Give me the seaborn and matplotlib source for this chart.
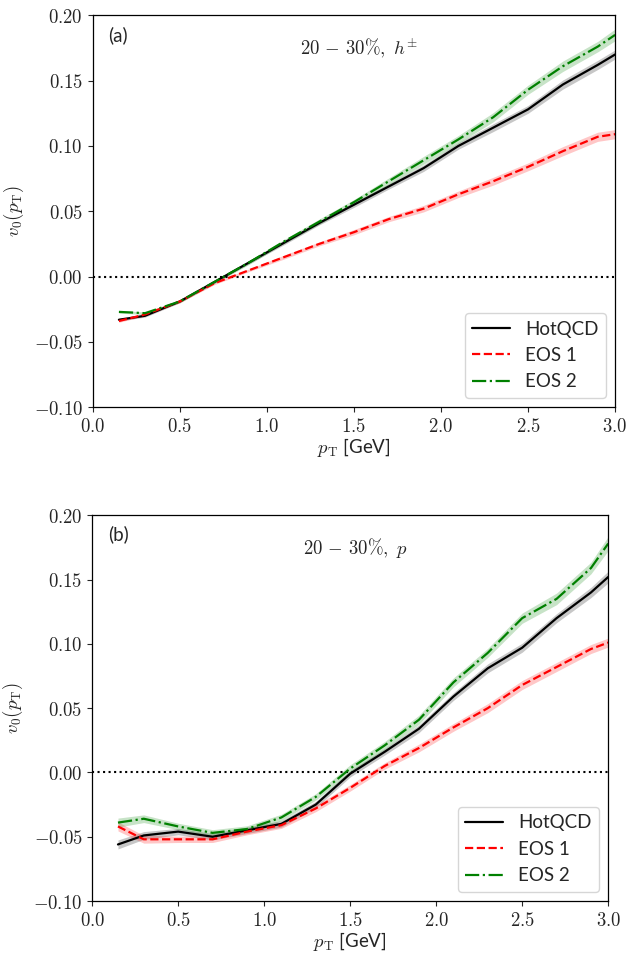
import numpy as np
import pandas as pd
import matplotlib
matplotlib.use("Agg")
import matplotlib.pyplot as plt
import seaborn as sns
from matplotlib.ticker import FuncFormatter, MultipleLocator

sns.set_style("ticks")
plt.rcParams['font.family'] = ['Lato', 'DejaVu Sans']
plt.rcParams['mathtext.fontset'] = 'cm'
plt.rcParams['axes.unicode_minus'] = True

# transverse momentum grid (GeV)
pt = [0.15, 0.3, 0.5, 0.7, 0.9, 1.1, 1.3, 1.5, 1.7, 1.9, 2.1, 2.3, 2.5, 2.7, 2.9, 3.0]

# panel (a): charged hadrons
a_hotqcd = [-0.033, -0.030, -0.019, -0.004, 0.011, 0.026, 0.041, 0.055, 0.069, 0.083, 0.100, 0.114, 0.128, 0.147, 0.162, 0.170]
a_eos1 = [-0.034, -0.029, -0.019, -0.005, 0.005, 0.015, 0.025, 0.034, 0.044, 0.052, 0.063, 0.073, 0.084, 0.096, 0.107, 0.109]
a_eos2 = [-0.027, -0.028, -0.019, -0.004, 0.011, 0.027, 0.042, 0.057, 0.073, 0.089, 0.105, 0.122, 0.143, 0.161, 0.176, 0.185]
a_hotqcd_err = [0.001, 0.001, 0.001, 0.001, 0.001, 0.0015, 0.0015, 0.002, 0.002, 0.0025, 0.0025, 0.003, 0.003, 0.0035, 0.0035, 0.0035]
a_eos1_err = [0.001, 0.001, 0.001, 0.001, 0.001, 0.0015, 0.0015, 0.002, 0.002, 0.0025, 0.0025, 0.003, 0.003, 0.0035, 0.0035, 0.0035]
a_eos2_err = [0.001, 0.001, 0.001, 0.001, 0.0015, 0.0015, 0.002, 0.002, 0.0025, 0.003, 0.003, 0.0035, 0.0035, 0.004, 0.004, 0.0045]

# panel (b): protons
b_hotqcd = [-0.056, -0.049, -0.046, -0.050, -0.045, -0.040, -0.025, -0.001, 0.016, 0.034, 0.059, 0.081, 0.097, 0.120, 0.140, 0.152]
b_eos1 = [-0.042, -0.052, -0.052, -0.052, -0.046, -0.041, -0.028, -0.012, 0.005, 0.019, 0.035, 0.050, 0.068, 0.082, 0.096, 0.101]
b_eos2 = [-0.039, -0.036, -0.042, -0.047, -0.044, -0.035, -0.019, 0.003, 0.021, 0.041, 0.070, 0.093, 0.120, 0.135, 0.159, 0.178]
b_hotqcd_err = [0.0035, 0.003, 0.0025, 0.0025, 0.0025, 0.0025, 0.0025, 0.0025, 0.0025, 0.003, 0.003, 0.0035, 0.0035, 0.0035, 0.004, 0.0045]
b_eos1_err = [0.0035, 0.003, 0.0025, 0.0025, 0.0025, 0.0025, 0.0025, 0.0025, 0.0025, 0.003, 0.003, 0.0035, 0.0035, 0.0035, 0.0035, 0.0035]
b_eos2_err = [0.0035, 0.003, 0.0025, 0.0025, 0.0025, 0.0025, 0.0025, 0.003, 0.003, 0.0035, 0.0035, 0.0035, 0.004, 0.0045, 0.0045, 0.0055]

labels = ['HotQCD', 'EOS 1', 'EOS 2']
colors = ['black', 'red', 'green']
styles = ['-', '--', '-.']

panels = [
    ('(a)', r'$20\,-\,30\%,\ h^{\pm}$', [a_hotqcd, a_eos1, a_eos2], [a_hotqcd_err, a_eos1_err, a_eos2_err]),
    ('(b)', r'$20\,-\,30\%,\ p$', [b_hotqcd, b_eos1, b_eos2], [b_hotqcd_err, b_eos1_err, b_eos2_err]),
]

fig = plt.figure(figsize=(6.27, 9.56), dpi=100)
axes = [fig.add_axes([0.148, 0.574, 0.833, 0.410]),
        fig.add_axes([0.147, 0.0575, 0.823, 0.4035])]

yfmt = FuncFormatter(lambda v, p: r'$%.2f$' % v)
xfmt = FuncFormatter(lambda v, p: r'$%.1f$' % v)

for ax, (tag, title, series, errs) in zip(axes, panels):
    ax.axhline(0, color='black', ls=':', lw=1.5)
    for lab, col, ls, y, e in zip(labels, colors, styles, series, errs):
        y = np.array(y)
        e = np.array(e)
        ax.fill_between(pt, y - e, y + e, color=col, alpha=0.22, lw=0)
        sns.lineplot(x=pt, y=y, ax=ax, color=col, linestyle=ls, lw=1.6, label=lab)
    ax.set_xlim(0, 3.0)
    ax.set_ylim(-0.10, 0.20)
    ax.xaxis.set_major_locator(MultipleLocator(0.5))
    ax.yaxis.set_major_locator(MultipleLocator(0.05))
    ax.xaxis.set_major_formatter(xfmt)
    ax.yaxis.set_major_formatter(yfmt)
    ax.tick_params(labelsize=13.5)
    ax.set_xlabel(r'$p_{\rm T}$ [GeV]', fontsize=13.5, labelpad=1)
    ax.set_ylabel(r'$v_0(p_{\rm T})$', fontsize=13.5, labelpad=6)
    ax.text(0.03, 0.95, tag, transform=ax.transAxes, fontsize=13.5, va='center', ha='left')
    ax.text(0.51, 0.915, title, transform=ax.transAxes, fontsize=13.5, va='center', ha='center')
    ax.legend(loc='lower right', fontsize=13.5, frameon=True, handlelength=2.0,
              borderaxespad=0.5)
    for s in ax.spines.values():
        s.set_visible(True)
        s.set_color('black')
        s.set_linewidth(0.9)

fig.savefig('out.png', dpi=100)
